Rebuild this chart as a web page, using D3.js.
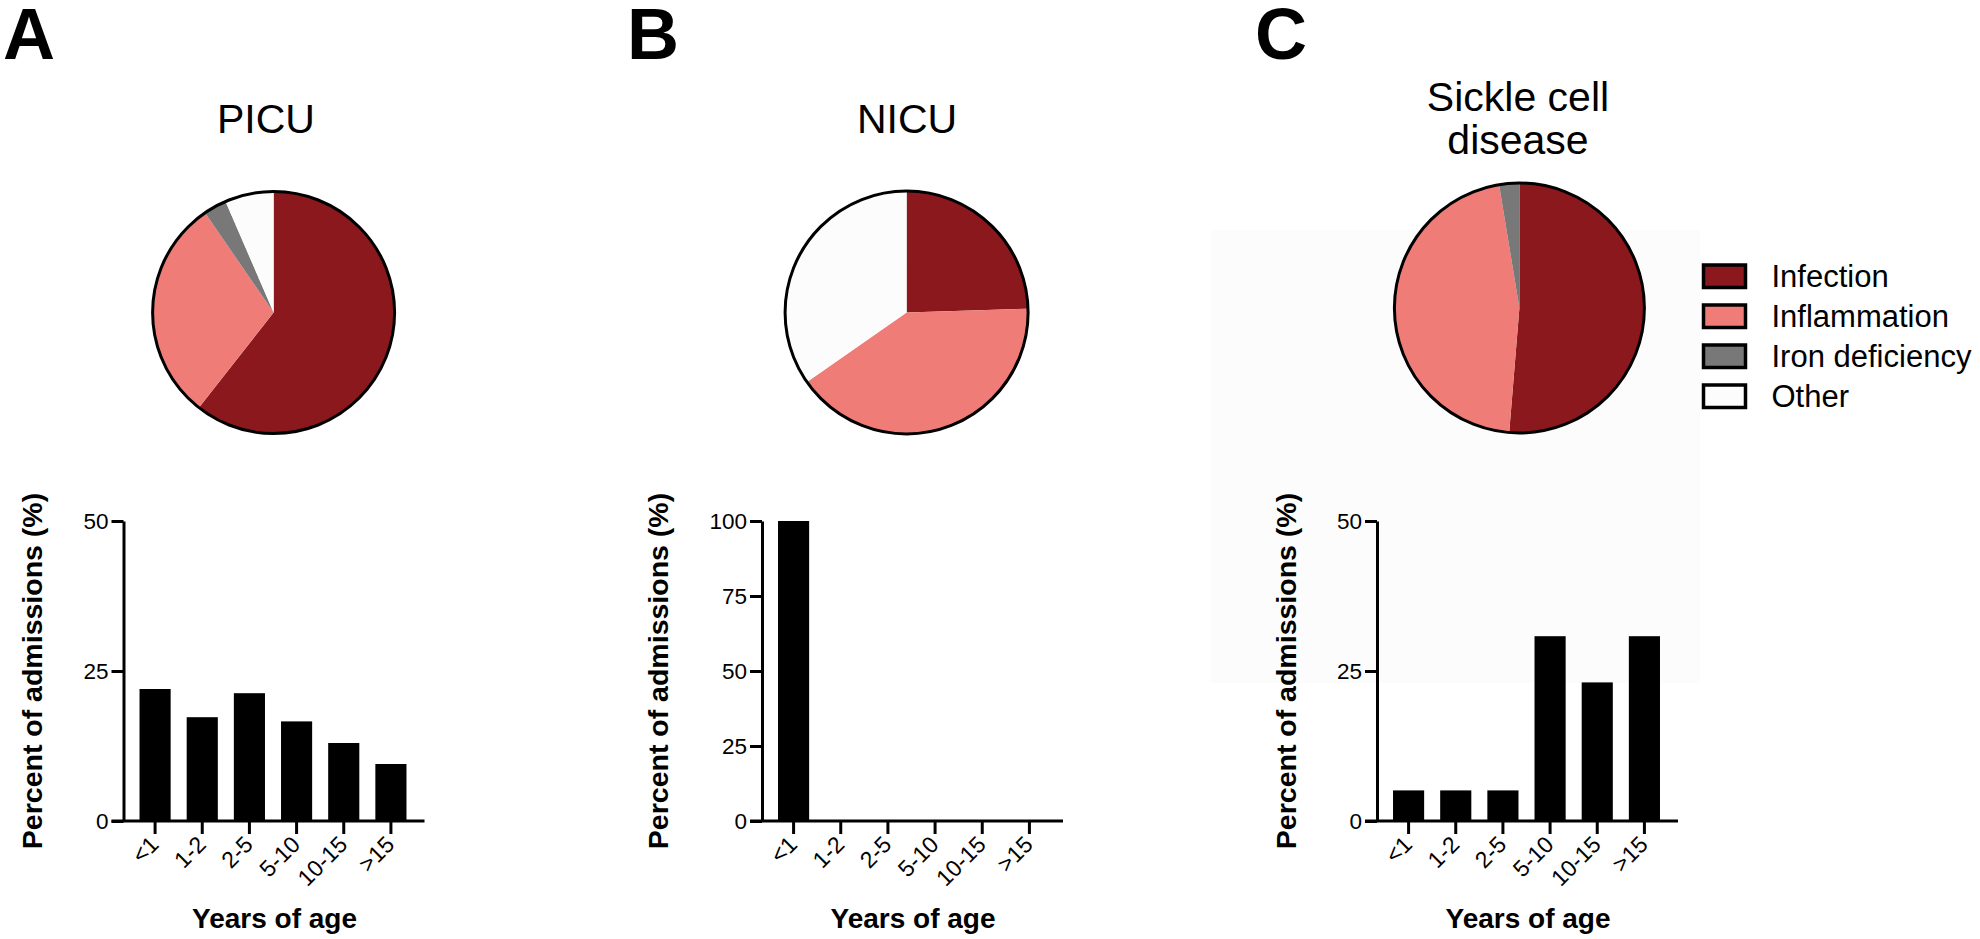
<!DOCTYPE html>
<html>
<head>
<meta charset="utf-8">
<script src="https://cdn.jsdelivr.net/npm/d3@7"></script>
<style>
	body { margin: 0; background: #fff; }
	svg { display: block; font-family: "Liberation Sans", Arial, sans-serif; }
</style>
</head>
<body>
<svg id="svg" width="1980" height="939"></svg>
<script>
"use strict";

// pie categories (same order in every pie, clockwise from 12 o'clock)
const causes = ["Infection", "Inflammation", "Iron deficiency", "Other"];
const causeColors = ["#8b181d", "#f07c78", "#787878", "#fcfcfc"];

// percent of admissions by cause
const picuCauses = [60.6, 29.8, 3.1, 6.5];
const nicuCauses = [24.5, 40.8, 0, 34.7];
const scdCauses = [51.3, 46.1, 2.6, 0];

// age groups for the bar charts
const ageGroups = ["<1", "1-2", "2-5", "5-10", "10-15", ">15"];
const picuAges = [22.0, 17.3, 21.3, 16.6, 13.0, 9.5];
const nicuAges = [100, 0, 0, 0, 0, 0];
const scdAges = [5.1, 5.1, 5.1, 30.8, 23.1, 30.8];

// y tick labels
const picuTicks = [0, 25, 50];
const nicuTicks = [0, 25, 50, 75, 100];
const scdTicks = [0, 25, 50];

const svg = d3.select("#svg");
const colorScale = d3.scaleOrdinal().domain(causes).range(causeColors);

// faint grey patch that sits behind panel C in the original figure
svg.append("rect")
	.attr("x", 1211)
	.attr("y", 230)
	.attr("width", 489)
	.attr("height", 453)
	.style("fill", "#fcfcfc");

const panels = [
	{ letter: "A", lx: 3, title: ["PICU"], tx: 266, ty: 133, pie: picuCauses, cx: 273.6, cy: 312.5, r: 121, ages: picuAges, ticks: picuTicks, axisX: 123.5 },
	{ letter: "B", lx: 627, title: ["NICU"], tx: 907, ty: 133, pie: nicuCauses, cx: 906.6, cy: 312.5, r: 121.5, ages: nicuAges, ticks: nicuTicks, axisX: 762 },
	{ letter: "C", lx: 1255, title: ["Sickle cell", "disease"], tx: 1518, ty: 111, pie: scdCauses, cx: 1519.4, cy: 308, r: 125, ages: scdAges, ticks: scdTicks, axisX: 1377 }
];

const plotTop = 521;
const plotBottom = 821;

function drawPie(p) {
	const g = svg.append("g").attr("transform", `translate(${p.cx},${p.cy})`);
	const pie = d3.pie().sort(null).value((d) => d);
	const arc = d3.arc().innerRadius(0).outerRadius(p.r);

	g.selectAll(".slice")
		.data(pie(p.pie))
		.enter()
		.append("path")
		.attr("class", "slice")
		.attr("d", arc)
		.style("fill", (d, i) => colorScale(causes[i]));

	// outline only round the outside
	g.append("circle")
		.attr("r", p.r)
		.style("fill", "none")
		.style("stroke", "#000")
		.style("stroke-width", "3px");
}

function drawBars(p) {
	const g = svg.append("g");
	const y = d3.scaleLinear().domain([0, d3.max(p.ticks)]).range([plotBottom, plotTop]);
	const x = d3.scaleBand()
		.domain(ageGroups)
		.range([p.axisX + 8, p.axisX + 291])
		.paddingInner(0.34)
		.paddingOuter(0.17);

	g.selectAll(".bar")
		.data(p.ages)
		.enter()
		.append("rect")
		.attr("class", "bar")
		.attr("x", (d, i) => x(ageGroups[i]))
		.attr("width", x.bandwidth())
		.attr("y", (d) => y(d))
		.attr("height", (d) => y(0) - y(d))
		.style("fill", "#000");

	// y axis
	const yAxis = g.append("g")
		.attr("transform", `translate(${p.axisX},0)`)
		.call(d3.axisLeft(y).tickValues(p.ticks).tickSize(12).tickSizeOuter(0).tickPadding(3))
		.attr("font-family", null)
		.attr("font-size", 22.5);
	yAxis.selectAll("path, line").style("stroke", "#000").style("stroke-width", "3px");
	yAxis.selectAll("text").style("fill", "#000");

	// x axis, line drawn by hand so it runs from the y axis past the last bar
	const xAxis = g.append("g")
		.attr("transform", `translate(0,${plotBottom})`)
		.call(d3.axisBottom(x).tickSize(13).tickSizeOuter(0))
		.attr("font-family", null)
		.attr("font-size", 23);
	xAxis.select(".domain").remove();
	xAxis.selectAll("line").style("stroke", "#000").style("stroke-width", "3px");
	xAxis.selectAll("text")
		.attr("x", 0)
		.attr("y", 0)
		.attr("dy", 0)
		.attr("transform", "translate(5,25) rotate(-45)")
		.attr("text-anchor", "end")
		.style("fill", "#000");
	g.append("line")
		.attr("x1", p.axisX - 12)
		.attr("x2", p.axisX + 301)
		.attr("y1", plotBottom)
		.attr("y2", plotBottom)
		.style("stroke", "#000")
		.style("stroke-width", "3px");

	// y label sits a fixed gap left of the widest tick label
	const widest = d3.max(yAxis.selectAll("text").nodes(), (n) => n.getComputedTextLength());
	const lx = p.axisX - 15 - widest - 41;
	g.append("text")
		.text("Percent of admissions (%)")
		.attr("transform", `translate(${lx},${(plotTop + plotBottom) / 2}) rotate(-90)`)
		.attr("text-anchor", "middle")
		.attr("font-weight", "bold")
		.attr("font-size", "28.5px");

	g.append("text")
		.text("Years of age")
		.attr("x", p.axisX + 151)
		.attr("y", 928)
		.attr("text-anchor", "middle")
		.attr("font-weight", "bold")
		.attr("font-size", "28px");
}

panels.forEach((p) => {
	svg.append("text")
		.text(p.letter)
		.attr("x", p.lx)
		.attr("y", 59)
		.attr("font-weight", "bold")
		.attr("font-size", "72px");

	svg.append("text")
		.attr("text-anchor", "middle")
		.attr("font-size", "41px")
		.selectAll("tspan")
		.data(p.title)
		.enter()
		.append("tspan")
		.attr("x", p.tx)
		.attr("y", (d, i) => p.ty + i * 43)
		.text((d) => d);

	drawPie(p);
	drawBars(p);
});

// legend
const legend = svg.append("g").attr("transform", "translate(1703.5,265)");
const rows = legend
	.selectAll(".row")
	.data(causes)
	.enter()
	.append("g")
	.attr("class", "row")
	.attr("transform", (d, i) => `translate(0,${i * 40})`);
rows.append("rect")
	.attr("width", 42)
	.attr("height", 22.5)
	.style("fill", (d) => colorScale(d))
	.style("stroke", "#000")
	.style("stroke-width", "3.5px");
rows.append("text")
	.text((d) => d)
	.attr("x", 68)
	.attr("y", 21.7)
	.attr("font-size", "31px");
</script>
</body>
</html>
